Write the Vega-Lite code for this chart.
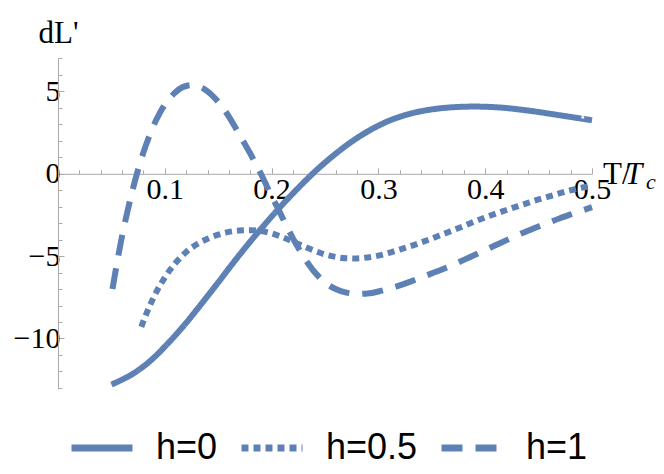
{
  "$schema": "https://vega.github.io/schema/vega-lite/v6.json",
  "autosize": {"type": "none"},
  "width": 534,
  "height": 331,
  "padding": {"left": 58, "top": 58, "right": 72, "bottom": 85},
  "background": "white",
  "config": {"view": {"stroke": null}},
  "datasets": {
    "curves": [
      {"x": 0.05, "y": -12.8, "h": "h=0"},
      {"x": 0.06, "y": -12.5, "h": "h=0"},
      {"x": 0.07, "y": -12.15, "h": "h=0"},
      {"x": 0.08, "y": -11.7, "h": "h=0"},
      {"x": 0.09, "y": -11.15, "h": "h=0"},
      {"x": 0.10, "y": -10.5, "h": "h=0"},
      {"x": 0.11, "y": -9.8, "h": "h=0"},
      {"x": 0.12, "y": -9.05, "h": "h=0"},
      {"x": 0.13, "y": -8.25, "h": "h=0"},
      {"x": 0.14, "y": -7.43, "h": "h=0"},
      {"x": 0.15, "y": -6.6, "h": "h=0"},
      {"x": 0.16, "y": -5.75, "h": "h=0"},
      {"x": 0.17, "y": -4.92, "h": "h=0"},
      {"x": 0.18, "y": -4.12, "h": "h=0"},
      {"x": 0.19, "y": -3.35, "h": "h=0"},
      {"x": 0.20, "y": -2.6, "h": "h=0"},
      {"x": 0.21, "y": -1.88, "h": "h=0"},
      {"x": 0.22, "y": -1.19, "h": "h=0"},
      {"x": 0.23, "y": -0.53, "h": "h=0"},
      {"x": 0.24, "y": 0.1, "h": "h=0"},
      {"x": 0.25, "y": 0.68, "h": "h=0"},
      {"x": 0.26, "y": 1.22, "h": "h=0"},
      {"x": 0.27, "y": 1.72, "h": "h=0"},
      {"x": 0.28, "y": 2.17, "h": "h=0"},
      {"x": 0.29, "y": 2.57, "h": "h=0"},
      {"x": 0.30, "y": 2.92, "h": "h=0"},
      {"x": 0.31, "y": 3.22, "h": "h=0"},
      {"x": 0.32, "y": 3.46, "h": "h=0"},
      {"x": 0.33, "y": 3.65, "h": "h=0"},
      {"x": 0.34, "y": 3.8, "h": "h=0"},
      {"x": 0.35, "y": 3.91, "h": "h=0"},
      {"x": 0.36, "y": 3.99, "h": "h=0"},
      {"x": 0.37, "y": 4.04, "h": "h=0"},
      {"x": 0.38, "y": 4.07, "h": "h=0"},
      {"x": 0.39, "y": 4.08, "h": "h=0"},
      {"x": 0.40, "y": 4.07, "h": "h=0"},
      {"x": 0.41, "y": 4.04, "h": "h=0"},
      {"x": 0.42, "y": 3.99, "h": "h=0"},
      {"x": 0.43, "y": 3.92, "h": "h=0"},
      {"x": 0.44, "y": 3.84, "h": "h=0"},
      {"x": 0.45, "y": 3.75, "h": "h=0"},
      {"x": 0.46, "y": 3.65, "h": "h=0"},
      {"x": 0.47, "y": 3.55, "h": "h=0"},
      {"x": 0.48, "y": 3.45, "h": "h=0"},
      {"x": 0.49, "y": 3.35, "h": "h=0"},
      {"x": 0.50, "y": 3.25, "h": "h=0"},

      {"x": 0.078, "y": -9.3, "h": "h=0.5"},
      {"x": 0.08, "y": -8.95, "h": "h=0.5"},
      {"x": 0.085, "y": -8.15, "h": "h=0.5"},
      {"x": 0.09, "y": -7.45, "h": "h=0.5"},
      {"x": 0.095, "y": -6.83, "h": "h=0.5"},
      {"x": 0.10, "y": -6.3, "h": "h=0.5"},
      {"x": 0.105, "y": -5.83, "h": "h=0.5"},
      {"x": 0.11, "y": -5.42, "h": "h=0.5"},
      {"x": 0.12, "y": -4.75, "h": "h=0.5"},
      {"x": 0.13, "y": -4.28, "h": "h=0.5"},
      {"x": 0.14, "y": -3.95, "h": "h=0.5"},
      {"x": 0.15, "y": -3.7, "h": "h=0.5"},
      {"x": 0.16, "y": -3.53, "h": "h=0.5"},
      {"x": 0.17, "y": -3.45, "h": "h=0.5"},
      {"x": 0.18, "y": -3.43, "h": "h=0.5"},
      {"x": 0.19, "y": -3.48, "h": "h=0.5"},
      {"x": 0.20, "y": -3.62, "h": "h=0.5"},
      {"x": 0.21, "y": -3.85, "h": "h=0.5"},
      {"x": 0.22, "y": -4.12, "h": "h=0.5"},
      {"x": 0.23, "y": -4.4, "h": "h=0.5"},
      {"x": 0.24, "y": -4.67, "h": "h=0.5"},
      {"x": 0.25, "y": -4.9, "h": "h=0.5"},
      {"x": 0.26, "y": -5.05, "h": "h=0.5"},
      {"x": 0.27, "y": -5.13, "h": "h=0.5"},
      {"x": 0.28, "y": -5.14, "h": "h=0.5"},
      {"x": 0.29, "y": -5.08, "h": "h=0.5"},
      {"x": 0.30, "y": -4.97, "h": "h=0.5"},
      {"x": 0.31, "y": -4.8, "h": "h=0.5"},
      {"x": 0.32, "y": -4.6, "h": "h=0.5"},
      {"x": 0.33, "y": -4.4, "h": "h=0.5"},
      {"x": 0.34, "y": -4.17, "h": "h=0.5"},
      {"x": 0.35, "y": -3.93, "h": "h=0.5"},
      {"x": 0.36, "y": -3.68, "h": "h=0.5"},
      {"x": 0.37, "y": -3.43, "h": "h=0.5"},
      {"x": 0.38, "y": -3.17, "h": "h=0.5"},
      {"x": 0.39, "y": -2.9, "h": "h=0.5"},
      {"x": 0.40, "y": -2.65, "h": "h=0.5"},
      {"x": 0.41, "y": -2.42, "h": "h=0.5"},
      {"x": 0.42, "y": -2.2, "h": "h=0.5"},
      {"x": 0.43, "y": -1.98, "h": "h=0.5"},
      {"x": 0.44, "y": -1.77, "h": "h=0.5"},
      {"x": 0.45, "y": -1.56, "h": "h=0.5"},
      {"x": 0.46, "y": -1.37, "h": "h=0.5"},
      {"x": 0.47, "y": -1.18, "h": "h=0.5"},
      {"x": 0.48, "y": -1.0, "h": "h=0.5"},
      {"x": 0.49, "y": -0.85, "h": "h=0.5"},
      {"x": 0.50, "y": -0.72, "h": "h=0.5"},

      {"x": 0.051, "y": -7.0, "h": "h=1"},
      {"x": 0.055, "y": -5.5, "h": "h=1"},
      {"x": 0.06, "y": -3.78, "h": "h=1"},
      {"x": 0.065, "y": -2.3, "h": "h=1"},
      {"x": 0.07, "y": -0.95, "h": "h=1"},
      {"x": 0.075, "y": 0.25, "h": "h=1"},
      {"x": 0.08, "y": 1.3, "h": "h=1"},
      {"x": 0.085, "y": 2.2, "h": "h=1"},
      {"x": 0.09, "y": 3.0, "h": "h=1"},
      {"x": 0.095, "y": 3.65, "h": "h=1"},
      {"x": 0.10, "y": 4.2, "h": "h=1"},
      {"x": 0.105, "y": 4.62, "h": "h=1"},
      {"x": 0.11, "y": 4.95, "h": "h=1"},
      {"x": 0.115, "y": 5.2, "h": "h=1"},
      {"x": 0.12, "y": 5.33, "h": "h=1"},
      {"x": 0.125, "y": 5.38, "h": "h=1"},
      {"x": 0.13, "y": 5.34, "h": "h=1"},
      {"x": 0.135, "y": 5.22, "h": "h=1"},
      {"x": 0.14, "y": 5.0, "h": "h=1"},
      {"x": 0.145, "y": 4.72, "h": "h=1"},
      {"x": 0.15, "y": 4.37, "h": "h=1"},
      {"x": 0.155, "y": 3.95, "h": "h=1"},
      {"x": 0.16, "y": 3.47, "h": "h=1"},
      {"x": 0.165, "y": 2.93, "h": "h=1"},
      {"x": 0.17, "y": 2.37, "h": "h=1"},
      {"x": 0.175, "y": 1.8, "h": "h=1"},
      {"x": 0.18, "y": 1.23, "h": "h=1"},
      {"x": 0.185, "y": 0.62, "h": "h=1"},
      {"x": 0.19, "y": 0.0, "h": "h=1"},
      {"x": 0.195, "y": -0.68, "h": "h=1"},
      {"x": 0.20, "y": -1.38, "h": "h=1"},
      {"x": 0.205, "y": -1.98, "h": "h=1"},
      {"x": 0.21, "y": -2.65, "h": "h=1"},
      {"x": 0.215, "y": -3.3, "h": "h=1"},
      {"x": 0.22, "y": -3.92, "h": "h=1"},
      {"x": 0.225, "y": -4.5, "h": "h=1"},
      {"x": 0.23, "y": -5.05, "h": "h=1"},
      {"x": 0.235, "y": -5.52, "h": "h=1"},
      {"x": 0.24, "y": -5.95, "h": "h=1"},
      {"x": 0.245, "y": -6.3, "h": "h=1"},
      {"x": 0.25, "y": -6.6, "h": "h=1"},
      {"x": 0.26, "y": -7.0, "h": "h=1"},
      {"x": 0.27, "y": -7.22, "h": "h=1"},
      {"x": 0.28, "y": -7.3, "h": "h=1"},
      {"x": 0.29, "y": -7.27, "h": "h=1"},
      {"x": 0.30, "y": -7.15, "h": "h=1"},
      {"x": 0.31, "y": -6.98, "h": "h=1"},
      {"x": 0.32, "y": -6.78, "h": "h=1"},
      {"x": 0.33, "y": -6.55, "h": "h=1"},
      {"x": 0.34, "y": -6.3, "h": "h=1"},
      {"x": 0.35, "y": -6.05, "h": "h=1"},
      {"x": 0.36, "y": -5.8, "h": "h=1"},
      {"x": 0.37, "y": -5.53, "h": "h=1"},
      {"x": 0.38, "y": -5.23, "h": "h=1"},
      {"x": 0.39, "y": -4.93, "h": "h=1"},
      {"x": 0.40, "y": -4.63, "h": "h=1"},
      {"x": 0.41, "y": -4.33, "h": "h=1"},
      {"x": 0.42, "y": -4.03, "h": "h=1"},
      {"x": 0.43, "y": -3.74, "h": "h=1"},
      {"x": 0.44, "y": -3.46, "h": "h=1"},
      {"x": 0.45, "y": -3.2, "h": "h=1"},
      {"x": 0.46, "y": -2.95, "h": "h=1"},
      {"x": 0.47, "y": -2.7, "h": "h=1"},
      {"x": 0.48, "y": -2.47, "h": "h=1"},
      {"x": 0.49, "y": -2.25, "h": "h=1"},
      {"x": 0.50, "y": -2.03, "h": "h=1"}
    ]
  },
  "resolve": {"axis": {"x": "independent", "y": "independent"}},
  "layer": [
    {
      "data": {"name": "curves"},
      "mark": {"type": "line", "opacity": 0, "strokeWidth": 0},
      "encoding": {
        "x": {
          "field": "x", "type": "quantitative",
          "scale": {"domain": [0, 0.5], "nice": false, "zero": false},
          "axis": {
            "orient": "bottom",
            "offset": -215.2,
            "values": [0.02, 0.04, 0.06, 0.08, 0.12, 0.14, 0.16, 0.18, 0.22, 0.24, 0.26, 0.28, 0.32, 0.34, 0.36, 0.38, 0.42, 0.44, 0.46, 0.48],
            "labels": false,
            "domain": false,
            "tickSize": -4,
            "tickColor": "#aaaaaa",
            "title": null,
            "grid": false
          }
        },
        "y": {
          "field": "y", "type": "quantitative",
          "scale": {"domain": [-13.07, 7.03], "nice": false, "zero": false},
          "axis": {
            "orient": "left",
            "values": [-13, -12, -11, -9, -8, -7, -6, -4, -3, -2, -1, 1, 2, 3, 4, 6, 7],
            "labels": false,
            "domain": false,
            "tickSize": -4,
            "tickColor": "#aaaaaa",
            "title": null,
            "grid": false
          }
        }
      }
    },
    {
      "data": {"name": "curves"},
      "mark": {"type": "line", "color": "#5E81B5", "strokeWidth": 6, "strokeCap": "butt", "interpolate": "monotone"},
      "encoding": {
        "x": {
          "field": "x", "type": "quantitative",
          "axis": {
            "orient": "bottom",
            "offset": -215.2,
            "values": [0.1, 0.2, 0.3, 0.4, 0.5],
            "format": ".1f",
            "tickSize": -6,
            "title": null,
            "grid": false,
            "domainColor": "#aaaaaa",
            "tickColor": "#aaaaaa",
            "labelFont": "Liberation Serif",
            "labelFontSize": 30,
            "labelColor": "black",
            "labelPadding": 7,
            "labelBaseline": "top",
            "labelFlush": false,
            "labelOverlap": false
          }
        },
        "y": {
          "field": "y", "type": "quantitative",
          "axis": {
            "orient": "left",
            "values": [-10, -5, 0, 5],
            "format": "d",
            "tickSize": -6,
            "title": "dL'",
            "titleAngle": 0,
            "titleAlign": "left",
            "titleBaseline": "alphabetic",
            "titleX": -20,
            "titleY": -16,
            "titleFont": "Liberation Serif",
            "titleFontSize": 31,
            "titleFontWeight": "normal",
            "titleColor": "black",
            "grid": false,
            "domainColor": "#aaaaaa",
            "tickColor": "#aaaaaa",
            "labelFont": "Liberation Serif",
            "labelFontSize": 30,
            "labelColor": "black",
            "labelPadding": 4,
            "labelOverlap": false,
            "labelFlush": false
          }
        },
        "strokeDash": {
          "field": "h", "type": "nominal",
          "scale": {"domain": ["h=0", "h=0.5", "h=1"], "range": [[1, 0], [7, 5], [21, 13]]},
          "legend": {
            "title": null,
            "orient": "none",
            "direction": "horizontal",
            "legendX": 10,
            "legendY": 356,
            "padding": 0,
            "symbolType": "stroke",
            "symbolSize": 3721,
            "symbolStrokeWidth": 7,
            "symbolStrokeColor": "#5E81B5",
            "labelFont": "Liberation Sans",
            "labelFontSize": 36,
            "labelColor": "black",
            "labelOffset": 20,
            "columnPadding": 9,
            "labelLimit": 300
          }
        }
      }
    },
    {
      "data": {"values": [{}]},
      "mark": {"type": "text", "text": "T/", "font": "Liberation Serif", "fontSize": 31, "align": "left", "baseline": "alphabetic", "dx": 11, "dy": 10, "color": "black"},
      "encoding": {"x": {"datum": 0.5, "type": "quantitative", "axis": null}, "y": {"datum": 0, "type": "quantitative", "axis": null}}
    },
    {
      "data": {"values": [{}]},
      "mark": {"type": "text", "text": "T", "font": "Liberation Serif", "fontStyle": "italic", "fontSize": 31, "align": "left", "baseline": "alphabetic", "dx": 33, "dy": 10, "color": "black"},
      "encoding": {"x": {"datum": 0.5, "type": "quantitative", "axis": null}, "y": {"datum": 0, "type": "quantitative", "axis": null}}
    },
    {
      "data": {"values": [{}]},
      "mark": {"type": "text", "text": "c", "font": "Liberation Serif", "fontStyle": "italic", "fontSize": 22, "align": "left", "baseline": "alphabetic", "dx": 54, "dy": 15, "color": "black"},
      "encoding": {"x": {"datum": 0.5, "type": "quantitative", "axis": null}, "y": {"datum": 0, "type": "quantitative", "axis": null}}
    }
  ]
}
